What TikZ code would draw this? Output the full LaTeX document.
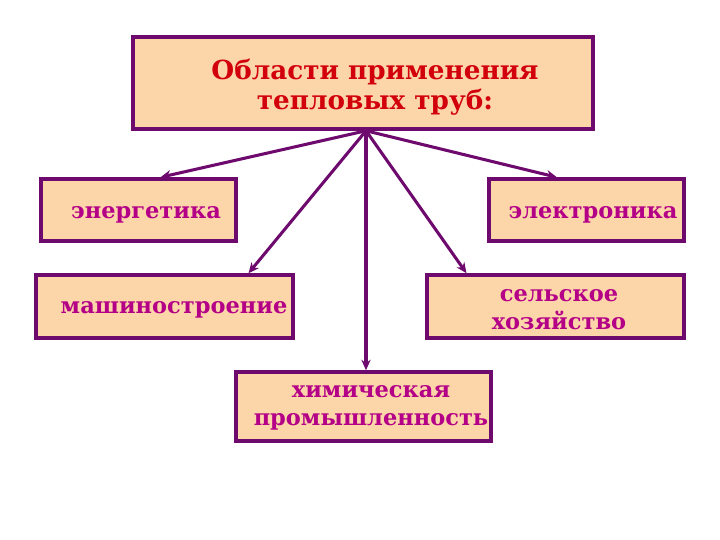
\documentclass[tikz,border=0pt]{standalone}
\usepackage{fontspec}
\setmainfont{DejaVu Serif}
\usetikzlibrary{arrows.meta}

\definecolor{boxfill}{RGB}{252,213,168}
\definecolor{boxline}{RGB}{110,10,110}
\definecolor{titlered}{RGB}{210,0,10}
\definecolor{lblmag}{RGB}{180,0,135}

\begin{document}
\begin{tikzpicture}[
        x=0.3mm, y=-0.3mm,
        >={Stealth[length=9pt,width=8pt]},
        box/.style={draw=boxline, line width=3pt, fill=boxfill, rectangle, inner sep=0pt},
        title/.style={align=center, text=titlered, font=\bfseries\fontsize{22.4}{25.5}\selectfont},
        lbl/.style={align=center, text=lblmag, font=\bfseries\fontsize{19.2}{24}\selectfont},
        link/.style={->, draw=boxline, line width=2.6pt}
    ]
    \useasboundingbox[fill=white] (0,0) rectangle (720,540);

    % --- Kopf ---
    \node[box, minimum width=138mm, minimum height=27.6mm] (head) at (363,83) {};
    \node[title] (headtxt) at (375,87) {Области применения\\тепловых труб:};

    % --- Zeile 1 ---
    \node[box, minimum width=58.5mm, minimum height=18.6mm] (energ) at (138.5,210) {};
    \node[lbl] (energtxt) at (146,215) {энергетика};
    \node[box, minimum width=58.5mm, minimum height=18.6mm] (elektr) at (586.5,210) {};
    \node[lbl] (elektrtxt) at (593,215) {электроника};

    % --- Zeile 2 ---
    \node[box, minimum width=77.1mm, minimum height=18.9mm] (masch) at (164.5,306.5) {};
    \node[lbl] (maschtxt) at (174,310) {машиностроение};
    \node[box, minimum width=77.1mm, minimum height=18.9mm] (selsk) at (555.5,306.5) {};
    \node[lbl] (selsktxt) at (559,310) {сельское\\хозяйство};

    % --- Zeile 3 ---
    \node[box, minimum width=76.5mm, minimum height=20.7mm] (chem) at (363.5,406.5) {};
    \node[lbl] (chemtxt) at (371,408) {химическая\\промышленность};

    % --- Pfeile ---
    \coordinate (hub) at ([xshift=0.9mm]head.south);
    \draw[link] (hub) -- ([xshift=6.6mm]energ.north);
    \draw[link] (hub) -- ([xshift=25.2mm]masch.north);
    \draw[link] (hub) -- (chem.north -| hub);
    \draw[link] (hub) -- ([xshift=-26.7mm]selsk.north);
    \draw[link] (hub) -- ([xshift=-8.9mm]elektr.north);

\end{tikzpicture}
\end{document}
